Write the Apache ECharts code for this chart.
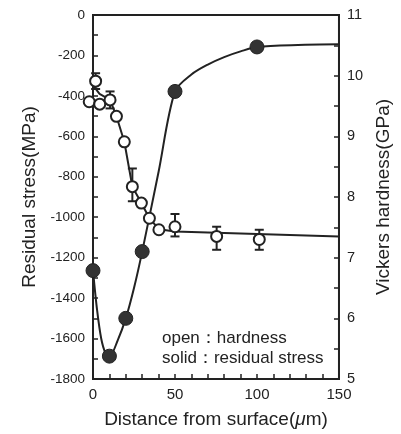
<!DOCTYPE html>
<html><head><meta charset="utf-8">
<script src="https://cdn.jsdelivr.net/npm/echarts@6/dist/echarts.min.js"></script>
<style>html,body{margin:0;padding:0;background:#fff}#c{width:401px;height:434px}</style>
</head><body><div id="c"></div>
<script>
// Residual stress (solid markers, left axis)
const stressDist = [0, 10, 20, 30, 50, 100];
const stressVals = [-1264, -1687, -1500, -1170, -378, -158];
// Residual stress fitted curve
const stressCurveDist = [0, 2.5, 5, 7.5, 10, 15, 20, 25, 30, 40, 50, 60, 70, 80, 90, 100, 125, 150];
const stressCurveVals = [-1264, -1460, -1600, -1670, -1690, -1610, -1500, -1350, -1170, -775, -378, -294, -245, -208, -180, -158, -148, -145];
// Vickers hardness (open markers, right axis)
const hardDist = [-2.3, 1.6, 4.1, 10.4, 14.3, 19.1, 24, 29.5, 34.4, 40.2, 50, 75.4, 101.4];
const hardVals = [9.57, 9.91, 9.53, 9.60, 9.33, 8.91, 8.17, 7.90, 7.65, 7.46, 7.51, 7.35, 7.30];
// Hardness curve
const hardCurveDist = [0, 4, 10.4, 14.3, 19.1, 24, 29.5, 34.4, 40.2, 50, 100, 150];
const hardCurveVals = [9.84, 9.70, 9.60, 9.33, 8.91, 8.17, 7.90, 7.65, 7.47, 7.43, 7.39, 7.35];
// Error bars on hardness
const errDist = [1.6, 10.4, 24, 50, 75.4, 101.4];
const errLow = [9.78, 9.46, 7.93, 7.35, 7.13, 7.13];
const errHigh = [10.04, 9.74, 8.47, 7.72, 7.51, 7.46];
// Axis ticks
const xTicks = {min: 0, max: 150, interval: 50};
const yLeftTicks = {min: -1800, max: 0, interval: 200};
const yRightTicks = {min: 5, max: 11, interval: 1};

const ink = '#222';
const font = 'Liberation Sans, Arial, sans-serif';
const chart = echarts.init(document.getElementById('c'));
const axisCommon = {
  axisLine: {show: true, onZero: false, lineStyle: {color: ink, width: 2}},
  axisTick: {show: true, inside: true, length: 5, lineStyle: {color: ink, width: 1.5}},
  minorTick: {show: true, length: 5, lineStyle: {color: ink, width: 1.5}},
  splitLine: {show: false},
  axisLabel: {color: ink, fontSize: 14, fontFamily: font, margin: 8},
  nameTextStyle: {color: ink, fontSize: 19, fontFamily: font}
};
chart.setOption({
  animation: false,
  grid: {left: 93, right: 52, top: 15, bottom: 52, show: true, borderColor: ink, borderWidth: 2},
  xAxis: Object.assign({}, axisCommon, {
    type: 'value', min: xTicks.min, max: xTicks.max, interval: xTicks.interval,
    minorTick: Object.assign({}, axisCommon.minorTick, {splitNumber: 5}),
    axisLabel: {color: ink, fontSize: 15, fontFamily: font, margin: 8},
    name: 'Distance from surface({mu|μ}m)', nameLocation: 'middle', nameGap: 31,
    nameTextStyle: {color: ink, fontSize: 19, fontFamily: font, rich: {mu: {fontStyle: 'italic', fontSize: 19, color: ink, fontFamily: font}}}
  }),
  yAxis: [
    Object.assign({}, axisCommon, {
      type: 'value', position: 'left', min: yLeftTicks.min, max: yLeftTicks.max, interval: yLeftTicks.interval,
      minorTick: Object.assign({}, axisCommon.minorTick, {splitNumber: 2}),
      axisLabel: {color: ink, fontSize: 13.5, fontFamily: font, margin: 8, formatter: v => String(v)},
      name: 'Residual stress(MPa)', nameLocation: 'middle', nameRotate: 90, nameGap: 43
    }),
    Object.assign({}, axisCommon, {
      type: 'value', position: 'right', min: yRightTicks.min, max: yRightTicks.max, interval: yRightTicks.interval,
      minorTick: Object.assign({}, axisCommon.minorTick, {splitNumber: 2}),
      axisLabel: {color: ink, fontSize: 14.5, fontFamily: font, margin: 8},
      name: 'Vickers hardness(GPa)', nameLocation: 'middle', nameRotate: 90, nameGap: 34
    })
  ],
  graphic: [
    {type: 'text', x: 162, y: 338, style: {text: 'open：hardness', fill: ink, font: '17px ' + font, verticalAlign: 'middle'}},
    {type: 'text', x: 162, y: 358, style: {text: 'solid：residual stress', fill: ink, font: '17px ' + font, verticalAlign: 'middle'}}
  ],
  series: [
    {type: 'line', yAxisIndex: 0, data: stressCurveDist.map((d, i) => [d, stressCurveVals[i]]), smooth: 0.3, showSymbol: false, lineStyle: {color: ink, width: 2}, z: 2, silent: true},
    {type: 'line', yAxisIndex: 1, data: hardCurveDist.map((d, i) => [d, hardCurveVals[i]]), smooth: false, showSymbol: false, lineStyle: {color: ink, width: 2}, z: 2, silent: true},
    {type: 'custom', yAxisIndex: 1, z: 3, clip: false,
     data: errDist.map((d, i) => [d, errLow[i], errHigh[i]]),
     renderItem: function (params, api) {
       const lo = api.coord([api.value(0), api.value(1)]);
       const hi = api.coord([api.value(0), api.value(2)]);
       const w = 4.5;
       const st = {stroke: ink, lineWidth: 2};
       return {type: 'group', children: [
         {type: 'line', shape: {x1: lo[0], y1: lo[1], x2: hi[0], y2: hi[1]}, style: st},
         {type: 'line', shape: {x1: lo[0] - w, y1: lo[1], x2: lo[0] + w, y2: lo[1]}, style: st},
         {type: 'line', shape: {x1: hi[0] - w, y1: hi[1], x2: hi[0] + w, y2: hi[1]}, style: st}
       ]};
     }},
    {type: 'scatter', yAxisIndex: 1, clip: false, z: 4, data: hardDist.map((d, i) => [d, hardVals[i]]), symbol: 'circle', symbolSize: 11, itemStyle: {color: '#fff', borderColor: ink, borderWidth: 2, opacity: 1}},
    {type: 'scatter', yAxisIndex: 0, clip: false, z: 5, data: stressDist.map((d, i) => [d, stressVals[i]]), symbol: 'circle', symbolSize: 14, itemStyle: {color: '#333', borderColor: '#222', borderWidth: 1, opacity: 1}}
  ]
});
</script></body></html>
